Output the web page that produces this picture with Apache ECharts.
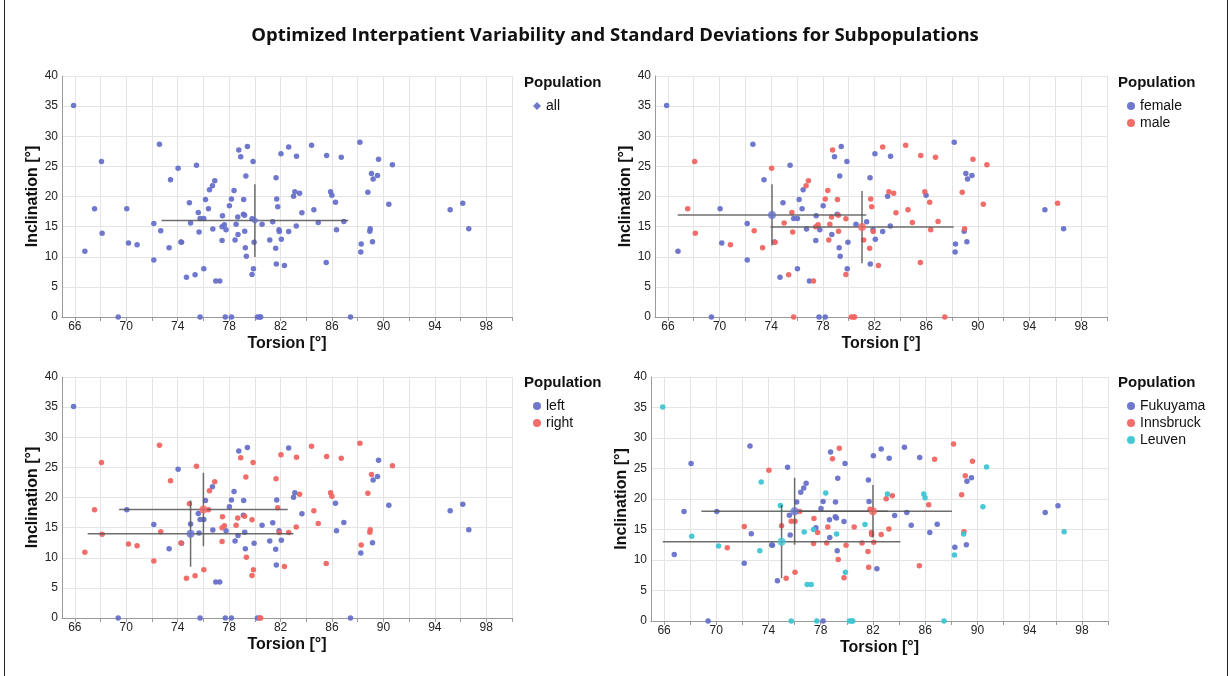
<!DOCTYPE html>
<html>
<head>
<meta charset="utf-8">
<script src="https://cdn.jsdelivr.net/npm/echarts@6/dist/echarts.min.js"></script>
<style>html,body{margin:0;padding:0;background:#fff}#main{width:1230px;height:676px}</style>
</head>
<body>
<div id="main"></div>
<script>
// measured points, same patients in all four panels
var torsion = [
  65.9, 72.58, 68.07, 74.03, 75.46, 73.44, 78.75, 79.42, 78.9, 79.86,
  79.3, 76.88, 76.7, 76.47, 78.38, 76.16, 78.18, 79.13, 74.91, 78.02,
  76.39, 75.6, 67.53, 70.04, 75.74, 76.03, 77.48, 78.67, 79.11, 79.2,
  79.78,
  75.0, 72.14, 80.56, 81.39, 77.63, 77.45, 78.54, 76.73, 77.76, 75.66,
  79.21, 72.68, 68.12, 78.69, 81.88, 81.9, 82.63, 78.46, 77.45, 74.3,
  74.25, 70.17, 70.84, 66.78, 73.33, 79.26, 79.94, 81.16, 81.62, 82.06,
  79.34, 72.14, 76.03, 79.89, 81.67, 82.3, 75.35, 74.68, 79.78, 76.96,
  77.27, 69.37, 75.74, 77.7, 78.18, 80.2, 80.38, 80.45, 81.65, 82.03,
  82.63, 81.7, 81.78,
  83.24, 84.41, 85.58, 86.72, 88.17, 89.62, 90.7, 89.07, 89.54, 89.2,
  83.11, 83.48, 83.01, 85.89, 85.99, 88.79, 86.27, 90.42, 95.19, 96.17,
  96.64, 83.66, 84.59, 84.93, 86.92, 83.22, 86.35, 88.97, 88.94, 89.15,
  88.27, 88.24, 85.55, 87.44
];
var inclination = [
  35.1, 28.67, 25.8, 24.7, 25.2, 22.8, 27.7, 28.3, 26.6, 25.8,
  23.4, 22.6, 21.8, 21.1, 21.0, 19.5, 19.6, 19.5, 18.95, 18.45,
  17.96, 17.35, 17.96, 17.96, 16.35, 16.35, 16.8, 16.6, 17.07, 16.9,
  16.3,
  15.6, 15.5, 15.4, 15.8, 15.3, 15.0, 15.4, 14.6, 14.5, 14.1,
  14.25, 14.3, 13.9, 13.7, 14.5, 14.2, 14.2, 12.8, 12.7, 12.4,
  12.45, 12.3, 12.0, 10.9, 11.5, 11.5, 12.4, 12.8, 11.4, 12.9,
  10.1, 9.45, 8.0, 8.0, 8.8, 8.56, 7.0, 6.6, 7.07, 5.97,
  5.97, 0, 0, 0, 0, 0, 0, 0, 23.1, 27.1,
  28.2, 19.6, 18.3,
  26.7, 28.5, 26.8, 26.5, 29.0, 26.2, 25.25, 23.8, 23.5, 22.9,
  20.8, 20.55, 20.05, 20.8, 20.2, 20.7, 19.06, 18.73, 17.8, 18.9,
  14.64, 17.3, 17.8, 15.7, 15.86, 15.1, 14.5, 14.64, 14.25, 12.5,
  12.1, 10.8, 9.06, 0
];
var sex = [
  'f','f','m','m','f','f','m','f','f','f',
  'f','m','m','f','m','f','m','m','f','f',
  'f','m','m','f','f','f','f','m','f','m',
  'm',
  'm','f','f','f','m','m','m','f','f','m',
  'm','m','m','f','f','m','f','m','f','m',
  'f','f','m','f','m','f','f','m','m','f',
  'f','f','f','f','f','m','m','f','m','f',
  'm','f','m','f','f','m','m','m','f','f',
  'm','m','m',
  'f','m','m','m','f','m','m','f','f','f',
  'm','m','f','m','f','m','m','m','f','m',
  'f','m','m','m','m','f','m','m','f','f',
  'f','f','m','m'
];
var side = [
  'l','r','r','l','r','r','l','l','r','r',
  'r','r','l','r','l','l','l','l','r','l',
  'r','l','r','l','l','l','r','r','l','r',
  'r',
  'l','l','l','l','r','r','r','l','l','l',
  'l','r','r','l','l','r','r','l','r','l',
  'r','r','r','r','l','l','l','l','l','l',
  'r','r','r','r','l','r','r','r','r','l',
  'l','l','l','l','l','l','r','r','r','r',
  'l','l','r',
  'r','r','r','r','r','l','r','r','l','l',
  'l','r','l','r','r','r','l','l','l','l',
  'l','l','r','r','l','r','l','r','r','l',
  'r','l','r','l'
];
var center = [
  'Le','Fu','Fu','In','Fu','Le','Fu','In','In','Fu',
  'Fu','Fu','Fu','Fu','Le','Fu','Fu','Fu','Le','Fu',
  'In','Fu','Fu','Fu','In','In','In','Fu','Fu','Fu',
  'Fu',
  'In','In','In','Le','Fu','Le','In','Le','In','Fu',
  'Le','Fu','Le','Fu','In','In','In','In','In','Fu',
  'Fu','Le','In','Fu','Le','Fu','In','In','In','In',
  'In','Fu','In','Le','In','Fu','In','Fu','In','Le',
  'Le','Fu','Le','Le','Fu','Le','Le','Le','Fu','Fu',
  'Fu','Fu','In',
  'Fu','Fu','Fu','In','In','In','Le','In','Fu','Fu',
  'Le','In','In','Le','Le','In','In','Le','Fu','Fu',
  'Le','Fu','Fu','Fu','Fu','In','Fu','In','Le','Fu',
  'Fu','Le','In','Le'
];

// mean and standard deviation per subpopulation (crosshairs)
var statNames = ['all', 'female', 'male', 'left', 'right', 'Fukuyama', 'Innsbruck', 'Leuven'];
var meanTorsion = [80.0, 74.06, 81.03, 75.0, 76.0, 76.0, 82.0, 75.0];
var sdTorsion = [7.26, 7.3, 7.09, 8.0, 6.56, 7.14, 6.05, 9.1];
var meanIncl = [16.0, 16.95, 14.93, 14.0, 18.0, 18.0, 18.0, 13.0];
var sdIncl = [6.05, 5.1, 6.0, 5.5, 6.1, 5.5, 4.3, 6.0];

var xTicks = [66, 68, 70, 72, 74, 76, 78, 80, 82, 84, 86, 88, 90, 92, 94, 96, 98, 100];
var xLabels = [66, 70, 74, 78, 82, 86, 90, 94, 98];

var blue = '#6771c9', red = '#f06562', cyan = '#3ec5d2';

var panels = [
  {attr: null, codes: [null], names: ['all'], colors: [blue],
   grid: {left: 62, top: 76, width: 450, height: 241}, lx: 524, ly: 84},
  {attr: sex, codes: ['f', 'm'], names: ['female', 'male'], colors: [blue, red],
   grid: {left: 655, top: 76, width: 452, height: 241}, lx: 1118, ly: 84},
  {attr: side, codes: ['l', 'r'], names: ['left', 'right'], colors: [blue, red],
   grid: {left: 62, top: 377, width: 450, height: 241}, lx: 524, ly: 384},
  {attr: center, codes: ['Fu', 'In', 'Le'], names: ['Fukuyama', 'Innsbruck', 'Leuven'], colors: [blue, red, cyan],
   grid: {left: 651, top: 377, width: 457, height: 244}, lx: 1118, ly: 384}
];

var font = 'Liberation Sans, Arial, sans-serif';
var grids = [], xAxes = [], yAxes = [], legends = [], series = [], graphics = [];

panels.forEach(function (p, k) {
  grids.push(p.grid);
  xAxes.push({
    gridIndex: k, type: 'value', min: 65, max: 100,
    name: 'Torsion [°]', nameLocation: 'middle', nameGap: 19,
    nameTextStyle: {fontFamily: font, fontWeight: 'bold', fontSize: 16, color: '#111'},
    axisLine: {show: true, lineStyle: {color: '#9a9a9a'}},
    axisTick: {show: true, length: 4, lineStyle: {color: '#9a9a9a'}, customValues: xTicks},
    axisLabel: {fontFamily: font, fontSize: 12, color: '#222', margin: 4, customValues: xLabels},
    splitLine: {show: true, lineStyle: {color: '#e4e4e4'}}
  });
  yAxes.push({
    gridIndex: k, type: 'value', min: 0, max: 40, interval: 5,
    name: 'Inclination [°]', nameLocation: 'middle', nameGap: 18,
    nameTextStyle: {fontFamily: font, fontWeight: 'bold', fontSize: 16, color: '#111'},
    axisLine: {show: true, lineStyle: {color: '#9a9a9a'}},
    axisTick: {show: false},
    axisLabel: {fontFamily: font, fontSize: 12, color: '#222', margin: 4},
    splitLine: {show: true, lineStyle: {color: '#e4e4e4'}}
  });
  legends.push({
    left: p.lx + 4, top: p.ly + 10, orient: 'vertical',
    itemWidth: 8, itemHeight: 8, itemGap: 3,
    textStyle: {fontFamily: font, fontSize: 14, color: '#111', lineHeight: 14},
    data: p.names.map(function (n) { return {name: n, icon: k === 0 ? 'diamond' : 'circle'}; })
  });
  graphics.push({
    type: 'text', left: p.lx, top: p.ly - 9,
    style: {text: 'Population', font: 'bold 15px ' + font, fill: '#111'}
  });

  p.codes.forEach(function (code, g) {
    var pts = [];
    for (var i = 0; i < torsion.length; i++) {
      if (p.attr === null || p.attr[i] === code) pts.push([torsion[i], inclination[i]]);
    }
    series.push({
      name: p.names[g], type: 'scatter', xAxisIndex: k, yAxisIndex: k,
      symbolSize: 5.5, itemStyle: {color: p.colors[g], opacity: 0.95},
      data: pts, z: 2, silent: true
    });
    var s = statNames.indexOf(p.names[g]);
    var mt = meanTorsion[s], st = sdTorsion[s], mi = meanIncl[s], si = sdIncl[s];
    series.push({
      type: 'line', xAxisIndex: k, yAxisIndex: k, symbol: 'none', silent: true, z: 3,
      lineStyle: {color: '#555', width: 1.5, opacity: 0.85},
      data: [[mt - st, mi], [mt + st, mi]]
    });
    series.push({
      type: 'line', xAxisIndex: k, yAxisIndex: k, symbol: 'none', silent: true, z: 3,
      lineStyle: {color: '#555', width: 1.5, opacity: 0.85},
      data: [[mt, mi - si], [mt, mi + si]]
    });
    series.push({
      type: 'scatter', xAxisIndex: k, yAxisIndex: k, silent: true, z: 4,
      symbol: k === 0 ? 'diamond' : 'circle', symbolSize: 8,
      itemStyle: {color: p.colors[g]}, data: [[mt, mi]]
    });
  });
});

graphics.push({
  type: 'rect', shape: {x: 4.5, y: -5, width: 1223, height: 690},
  style: {fill: 'none', stroke: '#222', lineWidth: 1}, silent: true
});

var chart = echarts.init(document.getElementById('main'));
chart.setOption({
  animation: false,
  title: {
    text: 'Optimized Interpatient Variability and Standard Deviations for Subpopulations',
    left: 'center', top: 21,
    textStyle: {fontFamily: 'Open Sans, sans-serif', fontWeight: 'bold', fontSize: 18.5, color: '#111'}
  },
  grid: grids,
  xAxis: xAxes,
  yAxis: yAxes,
  legend: legends,
  graphic: graphics,
  series: series
});
</script>
</body>
</html>
